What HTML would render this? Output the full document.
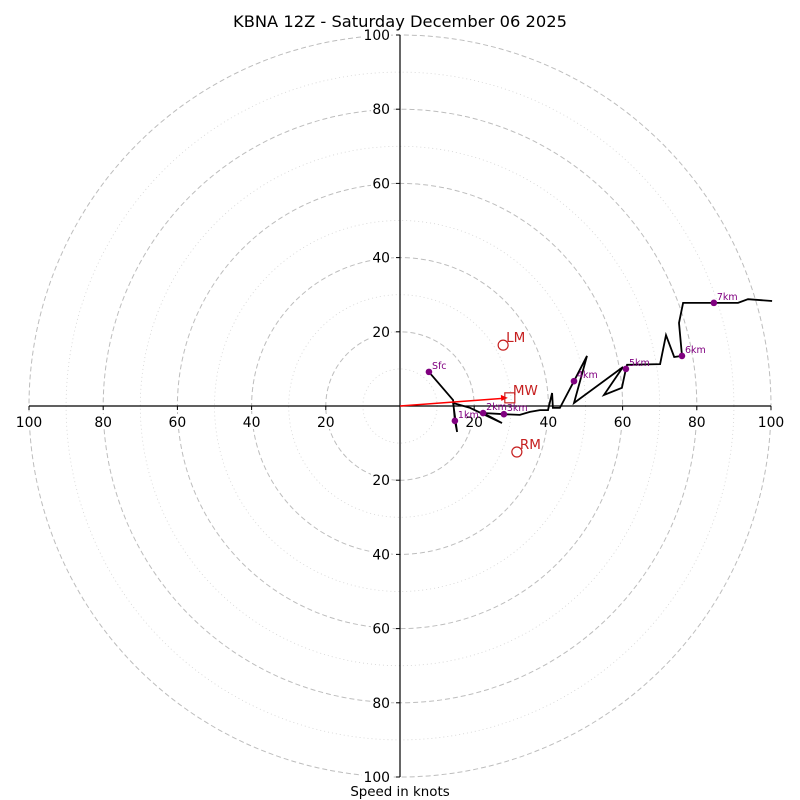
<!DOCTYPE html>
<html><head><meta charset="utf-8"><style>
html,body{margin:0;padding:0;background:#fff;}
svg{display:block;font-family:"DejaVu Sans","Liberation Sans",sans-serif;}
</style></head><body>
<svg id="chart" width="800" height="800" viewBox="0 0 800 800">
<defs><clipPath id="clipc"><rect x="28" y="35" width="745" height="742"/></clipPath></defs>
<text x="400" y="27" text-anchor="middle" font-size="16.3" fill="#000">KBNA 12Z - Saturday December 06 2025</text>
<g id="rings"></g>
<g id="axes"></g>
<g id="trace" clip-path="url(#clipc)"></g>
<g id="marks"></g>
<text x="400" y="796" text-anchor="middle" font-size="13.4" fill="#000">Speed in knots</text>
</svg>
<script>
const traceU=[7.8,14.3,14.8,15.4,14.3,18.9,27.5,22.4,28.0,32.3,35.0,37.7,39.9,41.0,41.2,43.1,46.9,50.4,46.9,60.1,55.0,59.8,60.9,61.2,70.1,71.7,73.9,76.0,75.2,76.3,84.6,91.1,93.8,100.3];
const traceV=[9.2,1.6,-4.0,-7.0,0.8,-0.5,-4.6,-1.9,-2.2,-2.4,-1.6,-1.1,-1.1,3.5,-0.5,-0.5,6.7,13.5,0.8,10.5,3.0,4.9,10.0,11.1,11.3,19.1,13.2,13.5,22.4,27.8,27.8,27.8,28.8,28.3];
const hgtLabels=["Sfc","1km","2km","3km","4km","5km","6km","7km"];
const hgtU=[7.8,14.8,22.4,28.0,46.9,60.9,76.0,84.6];
const hgtV=[9.2,-4.0,-1.9,-2.2,6.7,10.0,13.5,27.8];
const motionLabels=["LM","MW","RM"];
const motionU=[27.8,29.6,31.5];
const motionV=[16.4,2.2,-12.4];
const ringValues=[10,20,30,40,50,60,70,80,90,100];
const tickLabels=["20","40","60","80","100"];

const NS='http://www.w3.org/2000/svg';
const CX=400,CY=406,S=3.71;
const sx=u=>CX+u*S, sy=v=>CY-v*S;
function mk(tag,attrs,parent){const e=document.createElementNS(NS,tag);for(const k in attrs)e.setAttribute(k,attrs[k]);parent.appendChild(e);return e;}
const rings=document.getElementById('rings'),axes=document.getElementById('axes'),trace=document.getElementById('trace'),marks=document.getElementById('marks');

ringValues.forEach(r=>{
  const major=r%20===0;
  const c=mk('circle',{cx:CX,cy:CY,r:r*S,fill:'none',stroke:major?'#bdbdbd':'#d3d3d3','stroke-width':major?1:0.8,'stroke-dasharray':major?'5,3':'1,3'},rings);
  
  
});
const hl=mk('line',{x1:sx(-100),y1:CY,x2:sx(100),y2:CY,stroke:'#000','stroke-width':1.2},axes);


const vl=mk('line',{x1:CX,y1:sy(100),x2:CX,y2:sy(-100),stroke:'#000','stroke-width':1.2},axes);


tickLabels.forEach(t=>{
  const v=+t;
  [-1,1].forEach(sg=>{
    const x=sx(sg*v);
    mk('line',{x1:x,y1:CY,x2:x,y2:CY+4,stroke:'#000','stroke-width':1},axes);
    mk('rect',{x:x-(t.length*4.5+1),y:CY+8,width:t.length*9+2,height:15,fill:'#fff'},axes);
    const tx=mk('text',{x:x,y:CY+21,'text-anchor':'middle','font-size':13.9,fill:'#000'},axes);
    tx.textContent=t;
    
    
    const y=sy(sg*v);
    mk('line',{x1:CX-4,y1:y,x2:CX,y2:y,stroke:'#000','stroke-width':1},axes);
    mk('rect',{x:CX-11-t.length*9,y:y-8,width:t.length*9+2,height:15,fill:'#fff'},axes);
    const ty=mk('text',{x:CX-10,y:y+5,'text-anchor':'end','font-size':13.9,fill:'#000'},axes);
    ty.textContent=t;
    
    
  });
});
const pts=traceU.map((u,i)=>sx(u).toFixed(1)+','+sy(traceV[i]).toFixed(1)).join(' ');
const pl=mk('polyline',{points:pts,fill:'none',stroke:'#000','stroke-width':1.8,'stroke-linejoin':'miter'},trace);


hgtLabels.forEach((l,i)=>{
  const x=sx(hgtU[i]),y=sy(hgtV[i]);
  const c=mk('circle',{cx:x,cy:y,r:3.3,fill:'#800080'},marks);
  
  
  const t=mk('text',{x:x+3,y:y-3,'font-size':9.5,fill:'#800080'},marks);
  t.textContent=l;
  
  
});
const mx=sx(motionU[1]),my=sy(motionV[1]);
const ar=mk('line',{x1:CX,y1:CY,x2:mx-7,y2:my+0.5,stroke:'#ff0000','stroke-width':1.5},marks);


const ah=mk('polygon',{points:`${mx-2},${my} ${mx-9},${my-3} ${mx-8.5},${my+3}`,fill:'#ff0000'},marks);


motionLabels.forEach((l,i)=>{
  const x=sx(motionU[i]),y=sy(motionV[i]);
  let m;
  if(l==='MW') m=mk('rect',{x:x-5,y:y-5,width:10,height:10,fill:'none',stroke:'#c62020','stroke-width':1.2},marks);
  else m=mk('circle',{cx:x,cy:y,r:5,fill:'none',stroke:'#c62020','stroke-width':1.2},marks);
  
  
  const t=mk('text',{x:x+3,y:y-3,'font-size':13.5,fill:'#c62020'},marks);
  t.textContent=l;
  
  
});
</script>
</body></html>
